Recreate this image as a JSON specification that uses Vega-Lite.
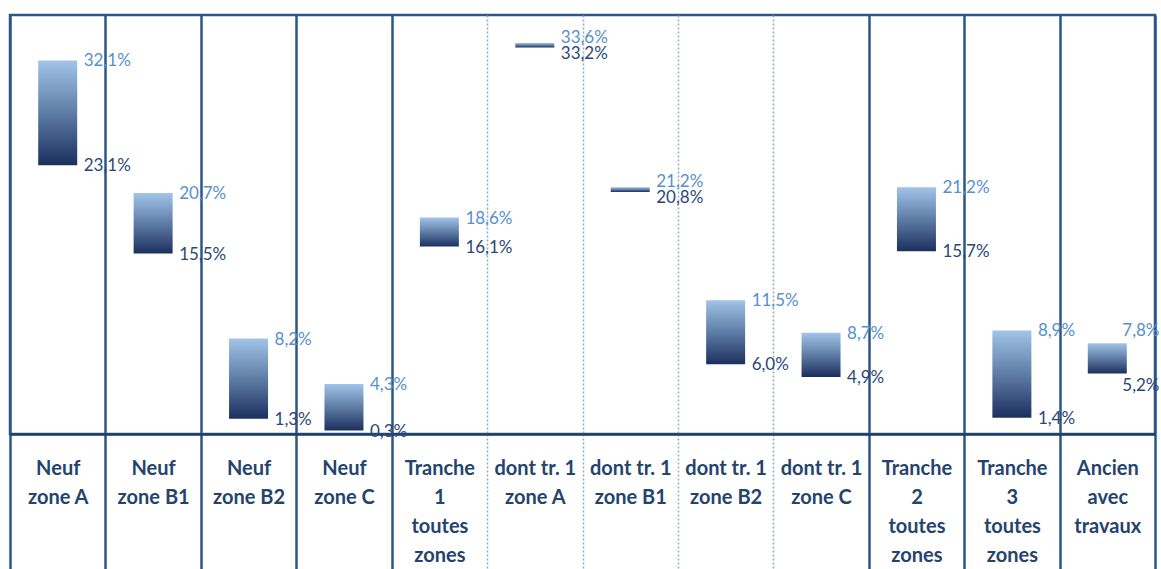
{
  "$schema": "https://vega.github.io/schema/vega-lite/v6.json",
  "width": 1145,
  "height": 419,
  "autosize": "none",
  "padding": {"left": 10, "top": 15, "right": 6, "bottom": 135},
  "background": "white",
  "config": {"view": {"stroke": "#2C5785", "strokeWidth": 2.5}},
  "data": {
    "values": [
      {"cat": "Neuf|zone A", "low": 23.1, "high": 32.1},
      {"cat": "Neuf|zone B1", "low": 15.5, "high": 20.7},
      {"cat": "Neuf|zone B2", "low": 1.3, "high": 8.2},
      {"cat": "Neuf|zone C", "low": 0.3, "high": 4.3},
      {"cat": "Tranche|1|toutes|zones", "low": 16.1, "high": 18.6},
      {"cat": "dont tr. 1|zone A", "low": 33.2, "high": 33.6},
      {"cat": "dont tr. 1|zone B1", "low": 20.8, "high": 21.2},
      {"cat": "dont tr. 1|zone B2", "low": 6.0, "high": 11.5},
      {"cat": "dont tr. 1|zone C", "low": 4.9, "high": 8.7},
      {"cat": "Tranche|2|toutes|zones", "low": 15.7, "high": 21.2},
      {"cat": "Tranche|3|toutes|zones", "low": 1.4, "high": 8.9},
      {"cat": "Ancien|avec|travaux", "low": 5.2, "high": 7.8}
    ]
  },
  "transform": [
    {"calculate": "replace(format(datum.high, '.1f'), '.', ',') + '%'", "as": "highLabel"},
    {"calculate": "replace(format(datum.low, '.1f'), '.', ',') + '%'", "as": "lowLabel"}
  ],
  "encoding": {
    "x": {
      "field": "cat",
      "type": "nominal",
      "sort": null,
      "scale": {"paddingInner": 0, "paddingOuter": 0},
      "axis": {
        "title": null,
        "labelAngle": 0,
        "tickBand": "extent",
        "grid": true,
        "gridColor": {"condition": {"test": "indexof(['Tranche|1|toutes|zones','dont tr. 1|zone A','dont tr. 1|zone B1','dont tr. 1|zone B2'], datum.value) >= 0", "value": "#93A8BF"}, "value": "#2C5785"},
        "gridDash": {"condition": {"test": "indexof(['Tranche|1|toutes|zones','dont tr. 1|zone A','dont tr. 1|zone B1','dont tr. 1|zone B2'], datum.value) >= 0", "value": [2, 2]}, "value": []},
        "gridWidth": {"condition": {"test": "indexof(['Tranche|1|toutes|zones','dont tr. 1|zone A','dont tr. 1|zone B1','dont tr. 1|zone B2'], datum.value) >= 0", "value": 1.5}, "value": 2.5},
        "ticks": true,
        "tickSize": 140,
        "tickColor": {"condition": {"test": "indexof(['Tranche|1|toutes|zones','dont tr. 1|zone A','dont tr. 1|zone B1','dont tr. 1|zone B2'], datum.value) >= 0", "value": "#93A8BF"}, "value": "#2C5785"},
        "tickDash": {"condition": {"test": "indexof(['Tranche|1|toutes|zones','dont tr. 1|zone A','dont tr. 1|zone B1','dont tr. 1|zone B2'], datum.value) >= 0", "value": [2, 2]}, "value": []},
        "tickWidth": {"condition": {"test": "indexof(['Tranche|1|toutes|zones','dont tr. 1|zone A','dont tr. 1|zone B1','dont tr. 1|zone B2'], datum.value) >= 0", "value": 1.5}, "value": 2.5},
        "domain": true,
        "domainColor": "#203F66",
        "domainWidth": 2.5,
        "labelExpr": "split(datum.label, '|')",
        "labelFont": "Lato",
        "labelFontWeight": "bold",
        "labelFontSize": 20,
        "labelColor": "#24436D",
        "labelLineHeight": 29,
        "labelBaseline": "top",
        "labelPadding": -116,
        "labelLimit": 0,
        "labelOverlap": false,
        "labelBound": false,
        "labelFlush": false
      }
    }
  },
  "layer": [
    {
      "mark": {
        "type": "bar",
        "size": 39,
        "color": {
          "gradient": "linear",
          "x1": 0, "y1": 0, "x2": 0, "y2": 1,
          "stops": [
            {"offset": 0, "color": "#A2C4E8"},
            {"offset": 0.5, "color": "#5E7DA6"},
            {"offset": 1, "color": "#1C2F5E"}
          ]
        }
      },
      "encoding": {
        "y": {"field": "low", "type": "quantitative", "scale": {"domain": [0, 36], "nice": false, "zero": false}, "axis": null},
        "y2": {"field": "high"}
      }
    },
    {
      "mark": {
        "type": "text",
        "align": "left",
        "baseline": "middle",
        "dx": {"expr": "datum.cat == 'Ancien|avec|travaux' ? 15 : 26"},
        "dy": {"expr": "datum.high - datum.low < 1 ? -5 : (datum.cat == 'Ancien|avec|travaux' ? -12 : 1)"},
        "font": "Lato",
        "fontSize": 17,
        "color": "#5590CF"
      },
      "encoding": {
        "y": {"field": "high", "type": "quantitative"},
        "text": {"field": "highLabel"}
      }
    },
    {
      "mark": {
        "type": "text",
        "align": "left",
        "baseline": "middle",
        "dx": {"expr": "datum.cat == 'Ancien|avec|travaux' ? 15 : 26"},
        "dy": {"expr": "datum.high - datum.low < 1 ? 6 : (datum.cat == 'Ancien|avec|travaux' ? 13 : 1)"},
        "font": "Lato",
        "fontSize": 17,
        "color": "#2A4877"
      },
      "encoding": {
        "y": {"field": "low", "type": "quantitative"},
        "text": {"field": "lowLabel"}
      }
    }
  ]
}
